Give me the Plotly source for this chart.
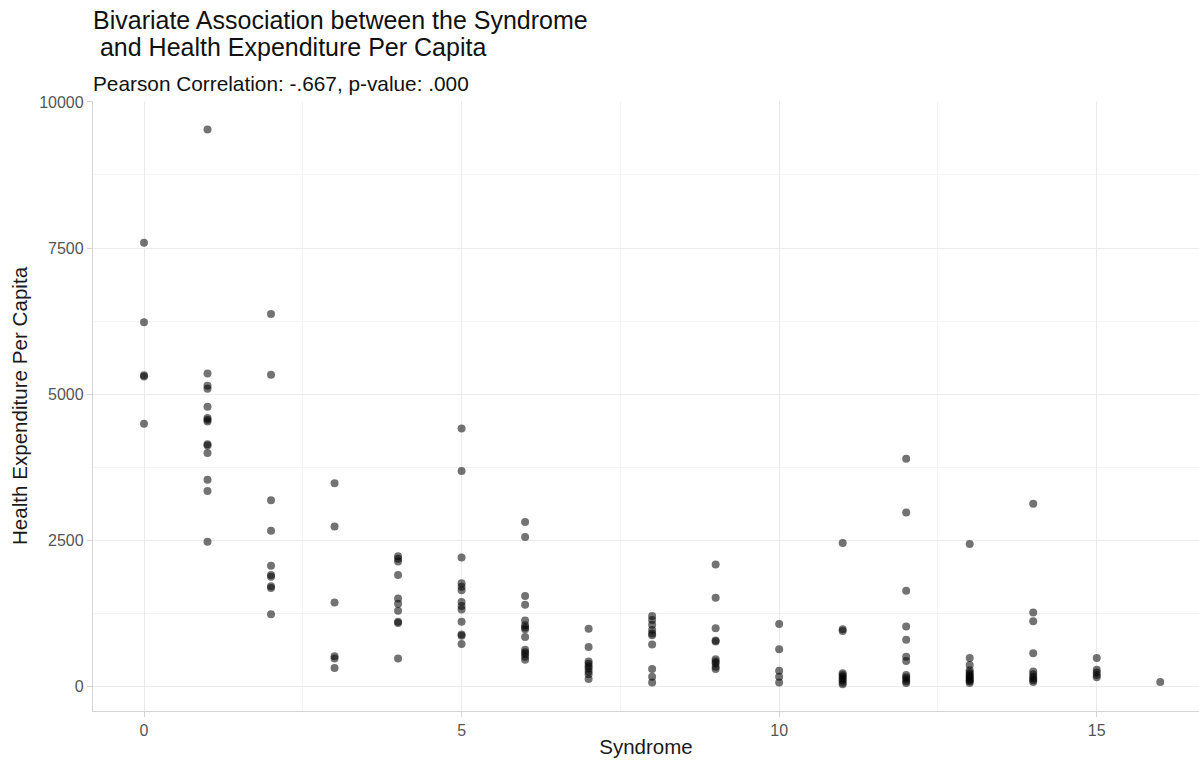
import plotly.graph_objects as go

# Health expenditure per capita for each syndrome score
syndrome_scores = list(range(17))
expenditure_by_score = [
    [7590, 6230, 5320, 5300, 4490],
    [9530, 5350, 5140, 5090, 4780, 4590, 4560, 4530, 4140, 4120, 3990, 3530, 3340, 2470],
    [6370, 5330, 3180, 2660, 2060, 1900, 1870, 1710, 1680, 1230],
    [3470, 2730, 1430, 510, 470, 310],
    [2220, 2180, 2130, 1900, 1500, 1410, 1290, 1100, 1080, 470],
    [4410, 3680, 2200, 1760, 1700, 1640, 1440, 1370, 1310, 1100, 880, 860, 720],
    [2810, 2550, 1540, 1390, 1120, 1040, 1000, 970, 840, 620, 580, 550, 500, 450],
    [980, 670, 420, 380, 340, 300, 250, 200, 120],
    [1200, 1130, 1050, 960, 900, 870, 710, 290, 160, 60],
    [2080, 1510, 990, 780, 760, 460, 420, 390, 330, 290],
    [1060, 630, 260, 160, 60],
    [2450, 970, 940, 220, 190, 160, 130, 100, 60, 30],
    [3890, 2970, 1630, 1020, 790, 500, 430, 190, 150, 120, 80, 50],
    [2430, 480, 360, 270, 230, 200, 170, 150, 120, 100, 80, 50],
    [3120, 1260, 1110, 560, 250, 200, 160, 130, 100, 70],
    [480, 280, 230, 190, 150],
    [70],
]

x_vals, y_vals = [], []
for score, values in zip(syndrome_scores, expenditure_by_score):
    for v in values:
        x_vals.append(score)
        y_vals.append(v)

x_ticks = [0, 5, 10, 15]
y_ticks = [0, 2500, 5000, 7500, 10000]

title_lines = ["Bivariate Association between the Syndrome",
               "\u00a0and Health Expenditure Per Capita"]
subtitle_text = "Pearson Correlation: -.667, p-value: .000"

FONT = "Liberation Sans, Arial, Helvetica, sans-serif"

fig = go.Figure(
    go.Scatter(
        x=x_vals,
        y=y_vals,
        mode="markers",
        marker=dict(size=8, color="rgba(0,0,0,0.55)", line=dict(width=0)),
        hoverinfo="x+y",
        showlegend=False,
    )
)

axis_common = dict(
    showgrid=True,
    gridcolor="#ebebeb",
    gridwidth=1.2,
    zeroline=False,
    showline=True,
    linecolor="#d4d4d4",
    linewidth=1.3,
    ticks="outside",
    ticklen=5,
    tickcolor="#d4d4d4",
    tickwidth=1,
    tickfont=dict(family=FONT, size=16, color="#555555"),
)

fig.update_layout(
    width=1199,
    height=765,
    margin=dict(l=93, r=0, t=101, b=54),
    paper_bgcolor="white",
    plot_bgcolor="white",
    font=dict(family=FONT, color="#1a1a1a"),
    xaxis=dict(
        axis_common,
        range=[-0.803, 16.61],
        tickvals=x_ticks,
        ticktext=[str(t) for t in x_ticks],
        minor=dict(showgrid=True, gridcolor="#f3f3f3", gridwidth=1, tickvals=[2.5, 7.5, 12.5]),
        title=dict(text="Syndrome", font=dict(family=FONT, size=20.5, color="#1a1a1a"), standoff=1),
    ),
    yaxis=dict(
        axis_common,
        range=[-428, 10017],
        tickvals=y_ticks,
        ticktext=[str(t) for t in y_ticks],
        minor=dict(showgrid=True, gridcolor="#f3f3f3", gridwidth=1, tickvals=[1250, 3750, 6250, 8750]),
        title=dict(text="Health Expenditure Per Capita", font=dict(family=FONT, size=20.6, color="#1a1a1a"), standoff=5),
    ),
)

# Two-line title plus subtitle, stacked above the plot area
header = [
    (title_lines[0], 25, 81),
    (title_lines[1], 25, 54),
    (subtitle_text, 20.8, 18),
]
for text, size, shift in header:
    fig.add_annotation(
        text=text,
        xref="paper", yref="paper",
        x=0, y=1,
        xanchor="left", yanchor="middle",
        xshift=-2, yshift=shift,
        align="left",
        showarrow=False,
        font=dict(family=FONT, size=size, color="#111111"),
    )

fig.write_html("out.html")
